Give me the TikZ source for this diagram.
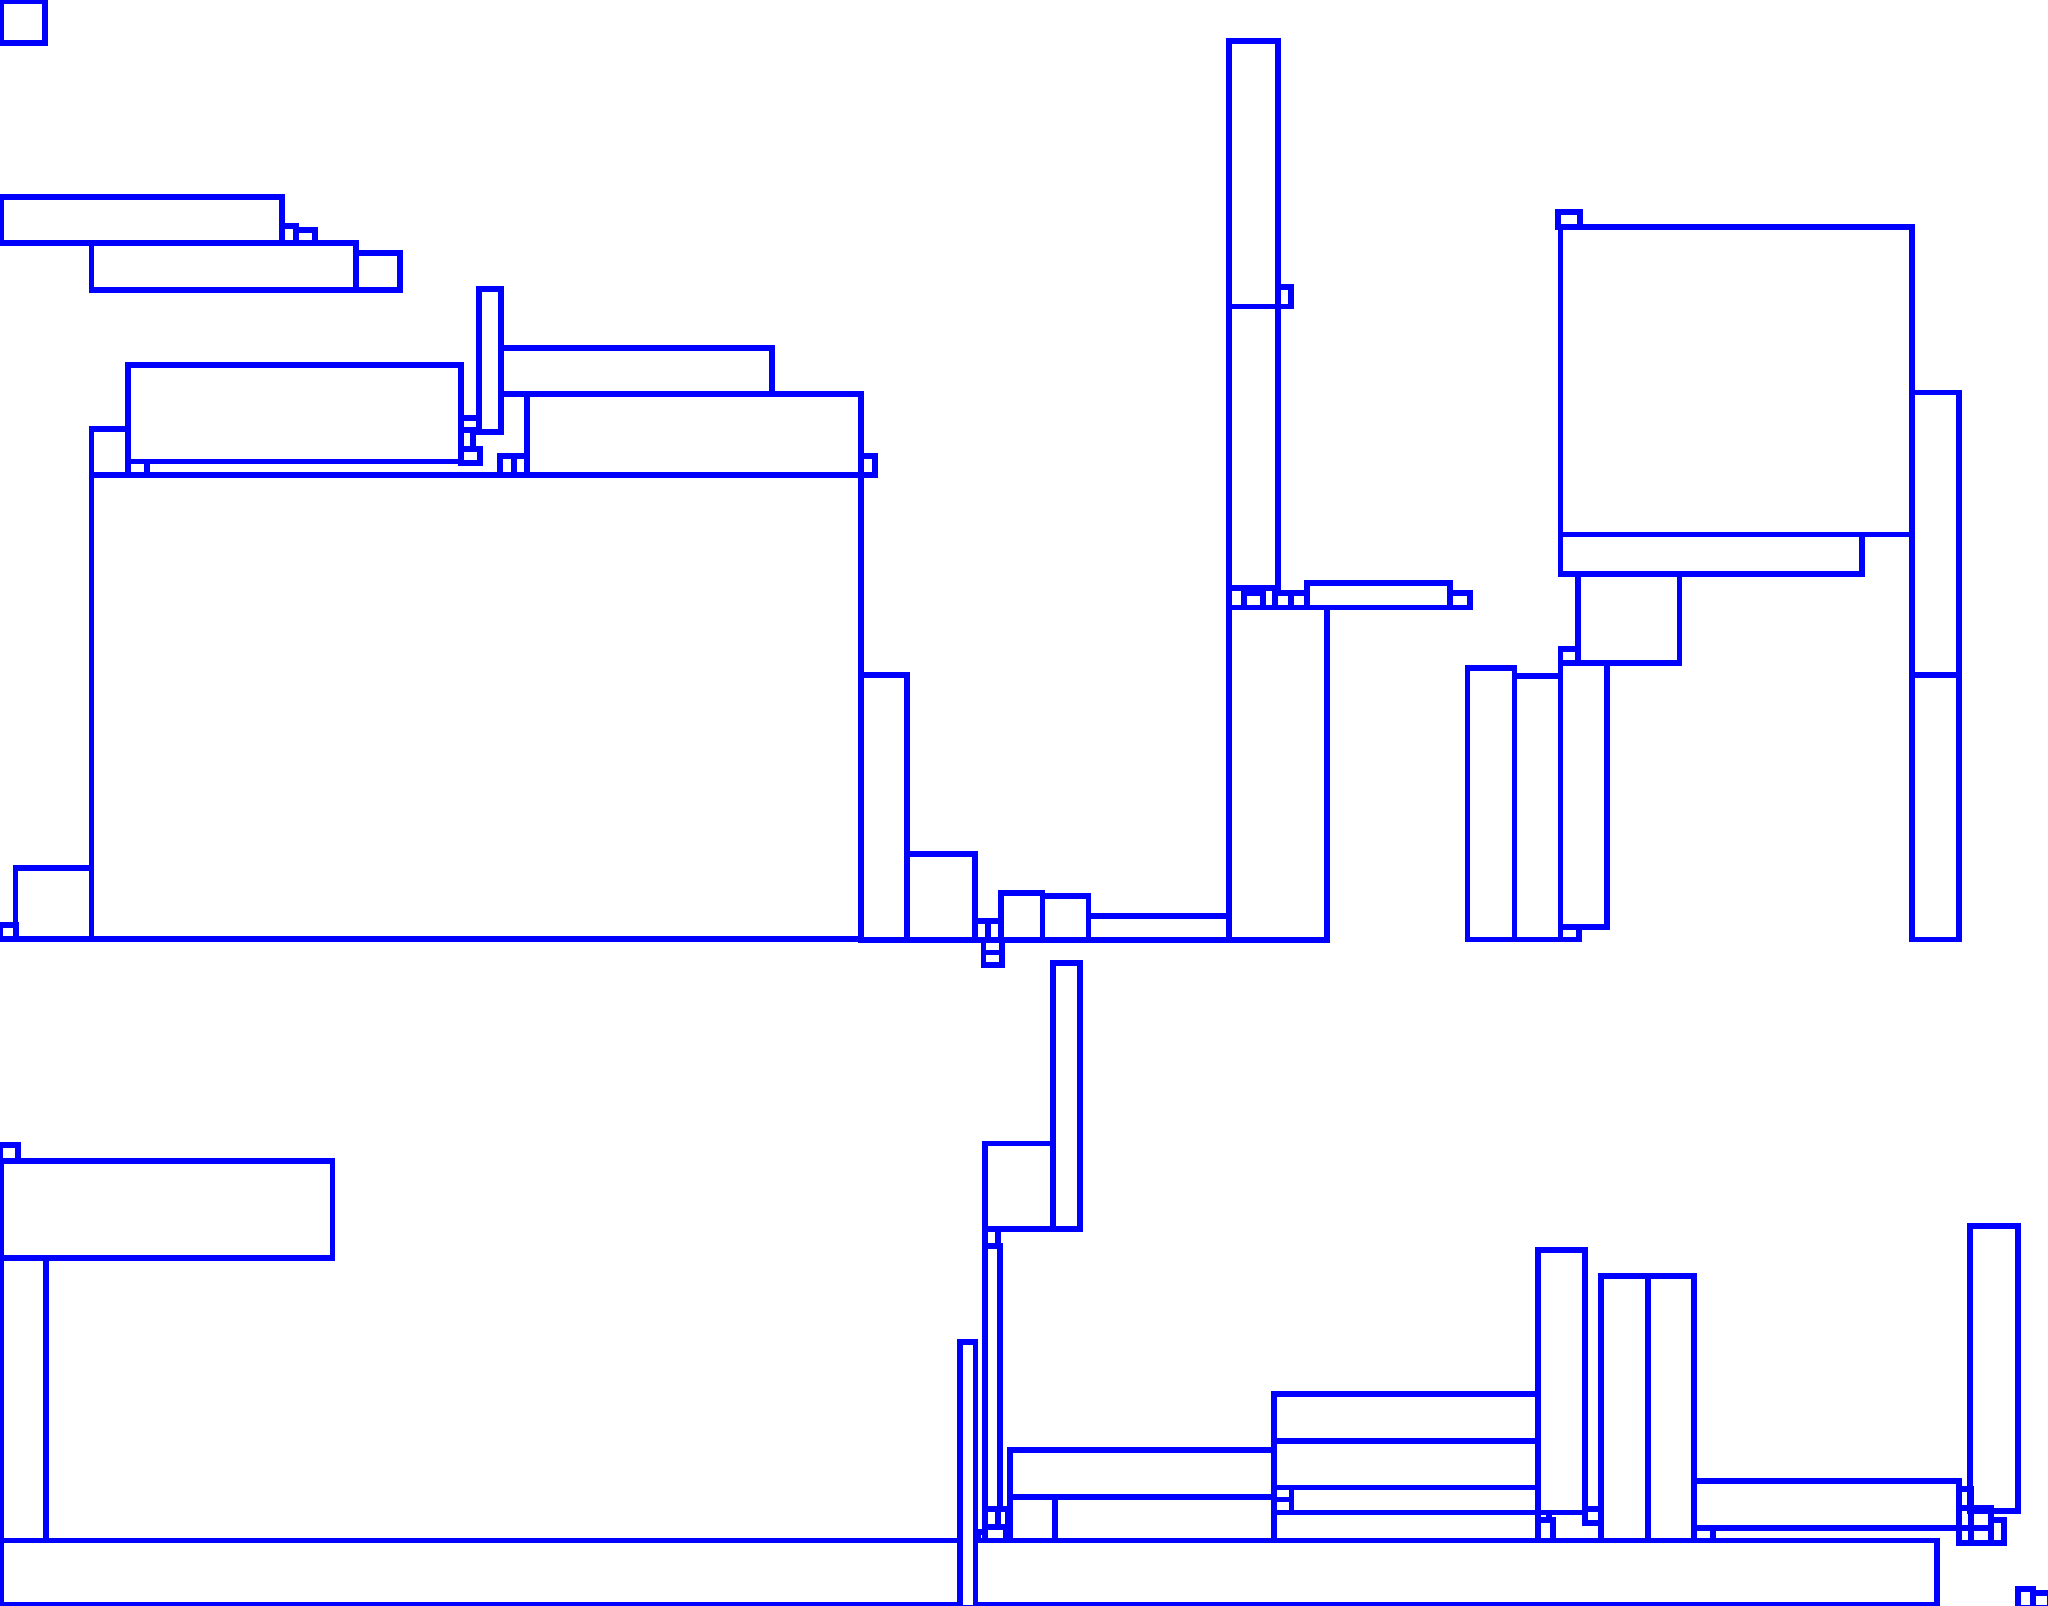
\documentclass[tikz,border=0pt]{standalone}
\definecolor{bl}{RGB}{0,0,255}
\tikzset{box/.style={draw=bl,line width=1.5pt}}
\newcommand\boxr[4]{\draw[box] (#1,#2) rectangle (#3,#4);}
\begin{document}
\begin{tikzpicture}[x=0.01cm,y=-0.01cm]
\useasboundingbox (0,0) rectangle (2048,1606);
\clip (0,0) rectangle (2048,1606);
% top-left
\boxr{1}{1}{45}{43}
\boxr{1}{197}{282}{243}
\boxr{282}{226}{296}{243}
\boxr{296}{230}{315}{243}
\boxr{91.5}{243}{356}{290}
\boxr{356}{253}{400}{290}
\boxr{479}{289}{501}{432}
\boxr{501}{348}{772}{394}
\boxr{527}{394}{861}{475}
\boxr{128}{365}{461}{461.5}
\boxr{91.5}{429}{128}{475}
\boxr{128}{461.5}{147}{475}
\boxr{461}{418}{479}{430}
\boxr{461}{430}{473}{449}
\boxr{461}{449}{480}{463}
\boxr{500}{456}{514}{475}
\boxr{514}{456}{527}{475}
\boxr{861}{456}{875}{475}
\boxr{91.5}{475}{861}{939}
\boxr{15.6}{868}{91.5}{939}
\boxr{0}{925}{16}{939}
% middle column
\boxr{861}{675}{907}{940}
\boxr{907}{854}{975}{940}
\boxr{975}{921}{988}{940}
\boxr{988}{921}{1001}{940}
\boxr{983.5}{940}{1002}{952.5}
\boxr{983.5}{952.5}{1002}{965}
\boxr{1001}{893}{1042.5}{940}
\boxr{1042.5}{896}{1088.5}{940}
\boxr{1088.5}{916}{1229}{940}
\boxr{1229}{41}{1278}{306.5}
\boxr{1278}{287}{1291}{306.5}
\boxr{1229}{306.5}{1278}{588}
\boxr{1229}{588}{1244}{607.5}
\boxr{1244}{593}{1263}{607.5}
\boxr{1263}{588}{1275}{607.5}
\boxr{1275}{593}{1291}{607.5}
\boxr{1291}{593}{1307}{607.5}
\boxr{1307}{583}{1450}{607.5}
\boxr{1450}{593}{1470}{607.5}
\boxr{1229}{607.5}{1327}{940}
% top-right
\boxr{1558}{212}{1580}{227}
\boxr{1560.5}{227}{1912}{534.5}
\boxr{1560.5}{534.5}{1862}{574}
\boxr{1578}{574}{1679.5}{663}
\boxr{1560.5}{649}{1578}{663}
\boxr{1467.5}{668}{1514.5}{939.6}
\boxr{1514.5}{676}{1560.5}{939.6}
\boxr{1560.5}{663}{1607}{927}
\boxr{1560.5}{927}{1579}{939.6}
\boxr{1912}{392.6}{1959}{675}
\boxr{1912}{675}{1959}{939.6}
% bottom-left
\boxr{0}{1145}{18}{1161}
\boxr{1}{1161}{332.6}{1258}
\boxr{1}{1258}{46}{1540.5}
\boxr{1}{1540.5}{960}{1605}
\boxr{960}{1342}{975.5}{1608}
\boxr{975.5}{1540.5}{1937}{1605}
% bottom-middle
\boxr{1053}{963}{1080}{1229}
\boxr{985}{1143.5}{1053}{1229}
\boxr{985}{1229}{998}{1246}
\boxr{985}{1246}{1000}{1509}
\boxr{985}{1509}{998}{1527}
\boxr{998}{1509}{1008}{1527}
\boxr{985}{1527}{1006}{1540.5}
\boxr{978}{1532}{985}{1540.5}
\boxr{1010}{1450}{1274}{1497}
\boxr{1010}{1497}{1055}{1540.5}
\boxr{1055}{1497}{1274}{1540.5}
\boxr{1274}{1394}{1538}{1441}
\boxr{1274}{1441}{1538}{1487.6}
\boxr{1274}{1487.6}{1291.6}{1499.5}
\boxr{1274}{1499.5}{1291.6}{1512.7}
\boxr{1291.6}{1487.6}{1538}{1512.7}
\boxr{1274}{1512.7}{1538}{1540.5}
% bottom-right
\boxr{1538}{1250}{1585}{1512.7}
\boxr{1538}{1512.7}{1549}{1520}
\boxr{1538}{1520}{1553}{1540.5}
\boxr{1585}{1509}{1601}{1523}
\boxr{1601}{1276}{1648}{1540.5}
\boxr{1648}{1276}{1694}{1540.5}
\boxr{1694}{1481}{1959}{1528}
\boxr{1694}{1528}{1713}{1540.5}
\boxr{1970}{1226}{2018}{1511}
\boxr{1959}{1489}{1971}{1508}
\boxr{1959}{1508}{1971}{1528}
\boxr{1959}{1528}{1971}{1543}
\boxr{1971}{1508}{1991}{1528}
\boxr{1971}{1528}{1991}{1543}
\boxr{1991}{1520}{2004}{1543}
\boxr{2018}{1589}{2033}{1608}
\boxr{2033}{1593}{2050}{1608}
\end{tikzpicture}
\end{document}
